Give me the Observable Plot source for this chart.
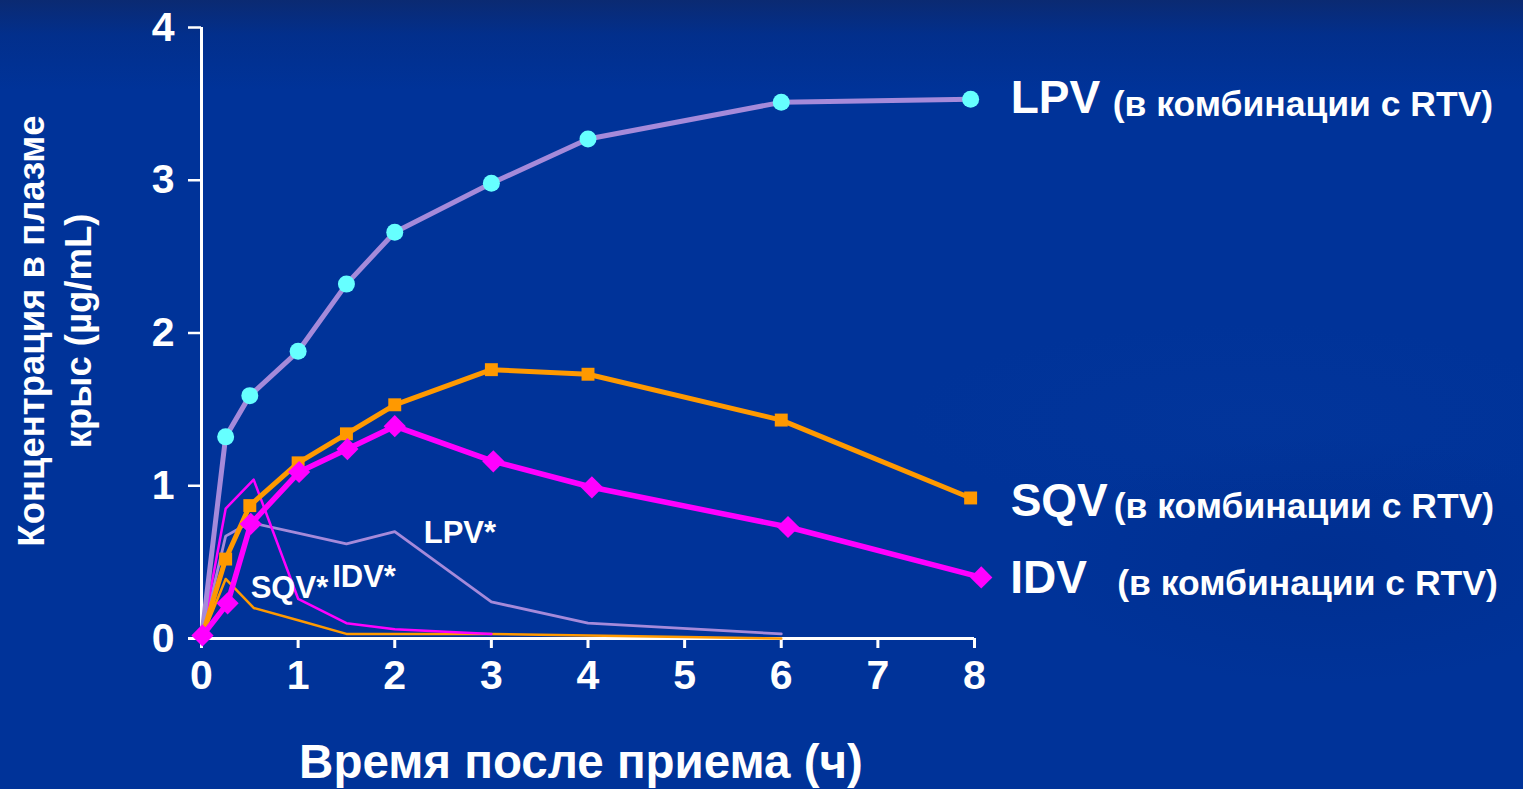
<!DOCTYPE html>
<html>
<head>
<meta charset="utf-8">
<script src="https://cdn.jsdelivr.net/npm/d3@7"></script>
<script src="https://cdn.jsdelivr.net/npm/@observablehq/plot@0.6"></script>
<style>
  html, body { margin: 0; padding: 0; }
  body {
    width: 1523px; height: 789px; overflow: hidden;
    background:
      radial-gradient(ellipse 420px 180px at 1330px 560px, rgba(0,30,110,0.18), rgba(0,0,0,0) 70%),
      radial-gradient(ellipse 500px 140px at 1250px 420px, rgba(20,70,170,0.10), rgba(0,0,0,0) 70%),
      linear-gradient(to bottom, #0b2a72 0px, #022f8c 35px, #003399 90px, #003399 100%);
  }
  #chart svg { display: block; }
</style>
</head>
<body>
<div id="chart"></div>
<script>
// ---- Data ----
const xTicks = [0, 1, 2, 3, 4, 5, 6, 7, 8];
const yTicks = [0, 1, 2, 3, 4];

// combination with RTV (thick lines with markers)
const timeCombo = [0, 0.25, 0.5, 1, 1.5, 2, 3, 4, 6, 7.96];
const lpvCombo  = [0, 1.32, 1.59, 1.88, 2.32, 2.66, 2.98, 3.27, 3.51, 3.53];
const sqvCombo  = [0, 0.52, 0.87, 1.15, 1.34, 1.53, 1.76, 1.73, 1.43, 0.92];
const timeIdv   = [0.01, 0.27, 0.51, 1.01, 1.51, 2, 3.02, 4.04, 6.07, 8.07];
const idvCombo  = [0.02, 0.23, 0.75, 1.09, 1.24, 1.39, 1.16, 0.99, 0.73, 0.40];

// drug alone (thin lines)
const timeLpvAlone = [0, 0.25, 0.5, 1, 1.5, 2, 3, 4, 6];
const lpvAlone     = [0, 0.67, 0.76, 0.69, 0.62, 0.70, 0.24, 0.10, 0.03];
const timeIdvAlone = [0, 0.25, 0.54, 1.0, 1.5, 2, 3];
const idvAlone     = [0, 0.85, 1.04, 0.26, 0.10, 0.06, 0.03];
const timeSqvAlone = [0, 0.25, 0.54, 1, 1.5, 2, 3, 4, 6];
const sqvAlone     = [0, 0.39, 0.20, 0.12, 0.03, 0.03, 0.03, 0.02, 0.0];

// texts
const comboNames  = ["LPV", "SQV", "IDV"];
const comboNote   = "(в комбинации с RTV)";
const aloneNames  = ["LPV*", "IDV*", "SQV*"];
const xTitle = "Время после приема (ч)";
const yTitle = "Концентрация в плазме\nкрыс (µg/mL)";

// ---- build tables ----
const zip = (xs, ys) => xs.map((x, i) => ({x, y: ys[i]}));
const lpv = zip(timeCombo, lpvCombo);
const sqv = zip(timeCombo, sqvCombo);
const idv = zip(timeIdv, idvCombo);
const lpvA = zip(timeLpvAlone, lpvAlone);
const idvA = zip(timeIdvAlone, idvAlone);
const sqvA = zip(timeSqvAlone, sqvAlone);

const LAV = "#a58ada", ORANGE = "#ff9900", MAGENTA = "#ff00ff", CYAN = "#66ffff";
const FONT = "'Liberation Sans', Arial, sans-serif";
const bold = {fontWeight: "bold", fill: "white", fontFamily: FONT};

const last = a => [a[a.length - 1]];

const plot = Plot.plot({
  width: 1523,
  height: 789,
  marginLeft: 201,
  marginRight: 549,
  marginTop: 27,
  marginBottom: 151,
  x: {domain: [0, 8]},
  y: {domain: [0, 4]},
  style: {background: "transparent", color: "white", fontFamily: FONT, overflow: "visible"},
  marks: [
    // axes
    Plot.axisX({ticks: xTicks, tickSize: 10, tickPadding: 11, fontSize: 41, fontWeight: "bold",
                strokeWidth: 3, label: null, tickFormat: d => String(d)}),
    Plot.axisY({ticks: yTicks, tickSize: 13, tickPadding: 14, fontSize: 41, fontWeight: "bold",
                strokeWidth: 2.5, label: null, tickFormat: d => String(d)}),
    Plot.ruleX([0], {stroke: "white", strokeWidth: 3}),
    Plot.ruleY([0], {stroke: "white", strokeWidth: 3, insetLeft: -13}),

    // thin lines (drug alone)
    Plot.line(lpvA, {x: "x", y: "y", stroke: LAV, strokeWidth: 2.8}),
    Plot.line(sqvA, {x: "x", y: "y", stroke: ORANGE, strokeWidth: 2.5}),
    Plot.line(idvA, {x: "x", y: "y", stroke: MAGENTA, strokeWidth: 2.5}),

    // thick lines (combination)
    Plot.line(lpv, {x: "x", y: "y", stroke: LAV, strokeWidth: 5}),
    Plot.dot(lpv.slice(1), {x: "x", y: "y", r: 8.5, fill: CYAN, stroke: null}),
    Plot.line(sqv, {x: "x", y: "y", stroke: ORANGE, strokeWidth: 5}),
    Plot.dot(sqv.slice(1), {x: "x", y: "y", r: 7.3, symbol: "square", fill: ORANGE, stroke: null}),
    Plot.line(idv, {x: "x", y: "y", stroke: MAGENTA, strokeWidth: 5.5}),
    Plot.dot(idv, {x: "x", y: "y", r: 10, symbol: "diamond2", fill: MAGENTA, stroke: null}),

    // labels for combination series
    Plot.text(last(lpv), {x: "x", y: "y", text: () => comboNames[0], textAnchor: "start", lineAnchor: "middle", dx: 40, dy: -1, fontSize: 46, ...bold}),
    Plot.text(last(lpv), {x: "x", y: "y", text: () => comboNote, textAnchor: "start", lineAnchor: "middle", dx: 142, dy: 5, fontSize: 35.5, ...bold}),
    Plot.text(last(sqv), {x: "x", y: "y", text: () => comboNames[1], textAnchor: "start", lineAnchor: "middle", dx: 40, dy: 3, fontSize: 46, ...bold}),
    Plot.text(last(sqv), {x: "x", y: "y", text: () => comboNote, textAnchor: "start", lineAnchor: "middle", dx: 143, dy: 9, fontSize: 35.5, ...bold}),
    Plot.text(last(idv), {x: "x", y: "y", text: () => comboNames[2], textAnchor: "start", lineAnchor: "middle", dx: 29, dy: 1, fontSize: 46, ...bold}),
    Plot.text(last(idv), {x: "x", y: "y", text: () => comboNote, textAnchor: "start", lineAnchor: "middle", dx: 136, dy: 6, fontSize: 35.5, ...bold}),

    // labels for drug-alone series
    Plot.text([lpvA[5]], {x: "x", y: "y", text: () => aloneNames[0], textAnchor: "start", lineAnchor: "middle", dx: 29, dy: 2, fontSize: 31, ...bold}),
    Plot.text([idvA[3]], {x: "x", y: "y", text: () => aloneNames[1], textAnchor: "start", lineAnchor: "middle", dx: 34, dy: -22, fontSize: 31, ...bold}),
    Plot.text([sqvA[2]], {x: "x", y: "y", text: () => aloneNames[2], textAnchor: "start", lineAnchor: "middle", dx: -3, dy: -20, fontSize: 31, ...bold}),

    // axis titles
    Plot.text([xTitle], {text: d => d, frameAnchor: "bottom", lineAnchor: "middle", dx: -7, dy: 124, fontSize: 47.5, ...bold}),
    Plot.text([yTitle], {text: d => d, frameAnchor: "left", rotate: -90, lineAnchor: "middle", textAnchor: "middle",
                         dx: -149, dy: -2, fontSize: 36.5, lineHeight: 1.27, ...bold})
  ]
});
document.getElementById("chart").appendChild(plot);
</script>
</body>
</html>
